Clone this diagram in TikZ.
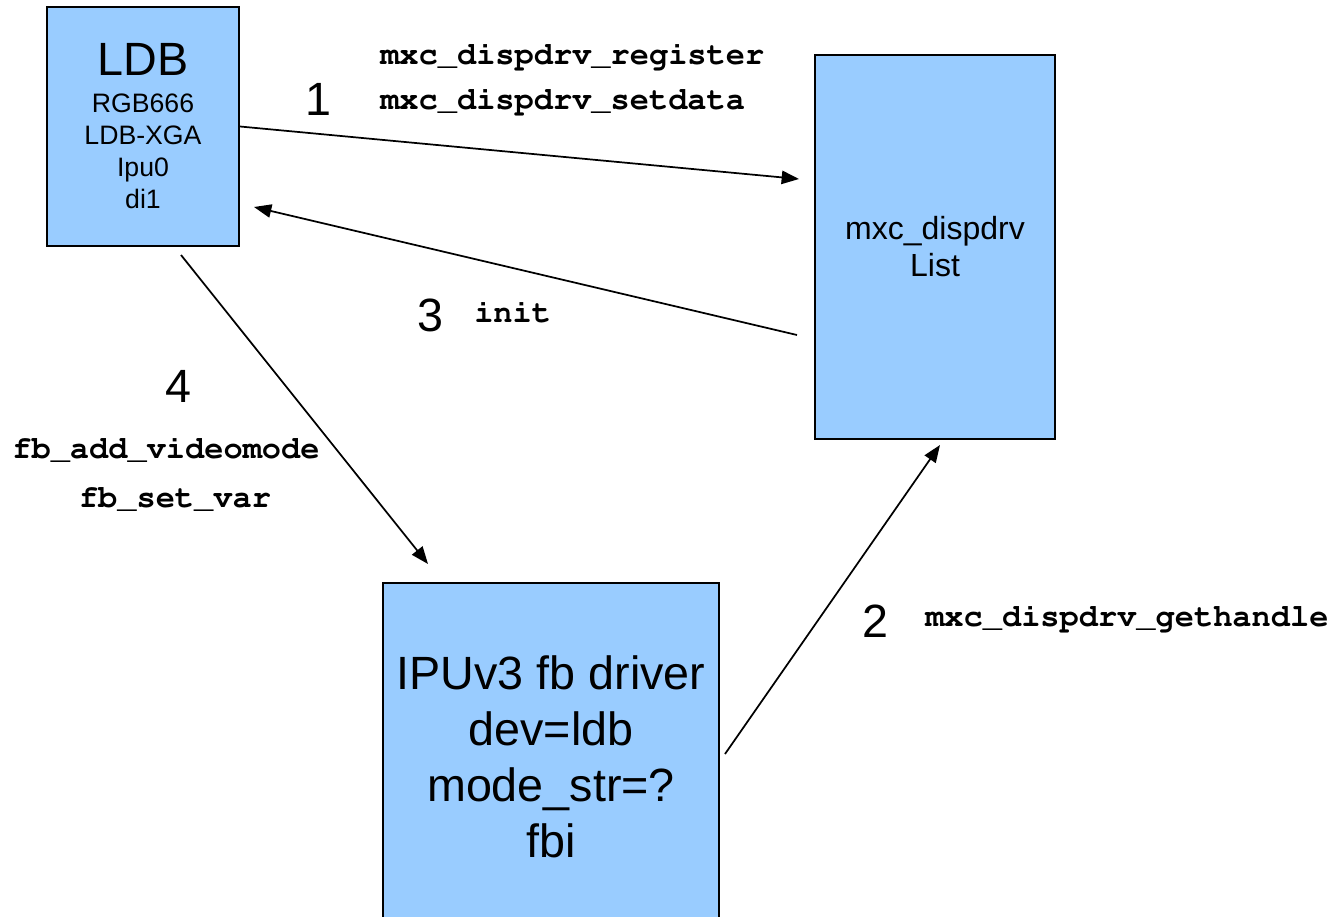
\documentclass[tikz,border=0pt]{standalone}
\usepackage[T1]{fontenc}
\usepackage{fontspec}
\setmainfont{Liberation Sans}
\usetikzlibrary{arrows.meta,calc}
\definecolor{boxblue}{RGB}{153,204,255}
\newcommand{\courierbold}{\fontencoding{T1}\fontfamily{pcr}\fontseries{b}\selectfont}
\begin{document}
\begin{tikzpicture}[x=0.75pt,y=-0.75pt]
    % Node styles
    \tikzset{block/.style={rectangle,draw,line width=1.5pt,fill=boxblue,align=center,inner sep=0pt},
             conn/.style={line width=1.3pt,-{Triangle[length=13pt,width=10pt]}},
             callname/.style={font=\fontsize{24}{28}\courierbold,inner sep=0pt},
             stepnum/.style={font=\fontsize{35}{42}\selectfont,inner sep=0pt}}
    \clip (0,0) rectangle (1343,917);

    % --- Blocks ---
    \node[block, minimum width=144pt, minimum height=179.25pt,
          font=\fontsize{20}{24}\selectfont] (ldb_box) at (143,126.5)
          {{\fontsize{35}{42}\selectfont LDB}\\[3.75pt] RGB666\\ LDB-XGA\\ Ipu0\\ di1};
    \node[block, minimum width=180pt, minimum height=288pt,
          font=\fontsize{24}{27.75}\selectfont] (list_box) at (935,247)
          {mxc\_dispdrv\\ List};
    \node[block, minimum width=252pt, minimum height=260.25pt,
          font=\fontsize{35}{42}\selectfont] (fb_box) at (551,756.5)
          {IPUv3 fb driver\\ dev=ldb\\ mode\_str=?\\ fbi};

    % --- Connectors ---
    \draw[conn] (ldb_box.east) -- ($(list_box.west)+(-15,-68)$);
    \draw[conn] ($(list_box.west)+(-17,88)$) -- ($(ldb_box.east)+(14,80.5)$);
    \draw[conn] ($(ldb_box.south)+(38,8)$) -- ($(fb_box.north)+(-123,-18)$);
    \draw[conn] ($(fb_box.east)+(5,-2.5)$) -- ($(list_box.south)+(5,5)$);

    % --- Step 1 ---
    \node[stepnum, anchor=base] (num_one) at (318,116) {1};
    \node[callname, anchor=base west] (call_register) at (380,65) {mxc\_dispdrv\_register};
    \node[callname, anchor=base west] (call_setdata) at (380,109) {mxc\_dispdrv\_setdata};

    % --- Step 2 ---
    \node[stepnum, anchor=base] (num_two) at (875,637) {2};
    \node[callname, anchor=base west] (call_gethandle) at (925,626) {mxc\_dispdrv\_gethandle};

    % --- Step 3 ---
    \node[stepnum, anchor=base] (num_three) at (430,331) {3};
    \node[callname, anchor=base west] (call_init) at (474,322) {init};

    % --- Step 4 ---
    \node[stepnum, anchor=base] (num_four) at (178,402) {4};
    \node[callname, anchor=base] (call_videomode) at (166,458) {fb\_add\_videomode};
    \node[callname, anchor=base] (call_setvar) at (175,507) {fb\_set\_var};
\end{tikzpicture}
\end{document}
